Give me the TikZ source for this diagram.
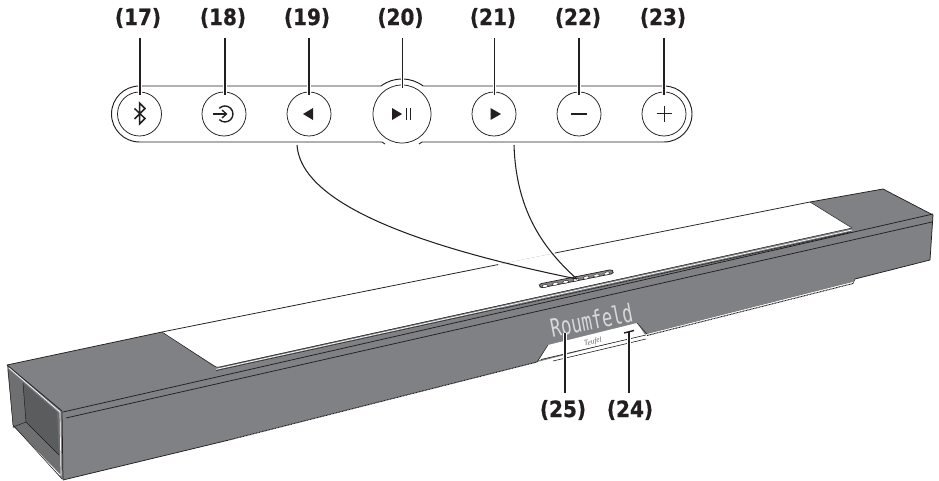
\documentclass[tikz,border=0pt]{standalone}
\usepackage{fontspec}
\setmainfont{DejaVu Sans}
\newfontfamily\calloutfont[FakeBold=0.7]{DejaVu Sans Bold}
\newfontfamily\dispfont{DejaVu Sans Mono}
\newfontfamily\logofont{Liberation Serif}
\usetikzlibrary{calc,shapes.geometric}
\definecolor{barbody}{HTML}{808184}
\definecolor{barinner}{HTML}{5B5C5E}
\definecolor{barside}{HTML}{6E6F71}
\definecolor{ink}{HTML}{231F20}
\tikzset{
  callout/.style={font=\calloutfont\fontsize{20}{24}\selectfont,text=ink,inner sep=0pt,anchor=center,yscale=1.12},
  btn/.style={circle,draw=ink,line width=0.75pt,fill=white,inner sep=0pt,minimum size=44pt},
  btnbig/.style={btn,minimum size=58pt},
  panelline/.style={draw=ink,line width=0.95pt},
  leader/.style={draw=ink,line width=1.4pt,preaction={draw=white,line width=3.6pt}},
  pin/.style={draw=ink,line width=1.05pt},
  edge/.style={draw=ink,line width=0.75pt,line join=round},
  hatchline/.style={draw=ink,line width=1pt,dash pattern=on 0.9pt off 0.6pt},
  ovalkey/.style={ellipse,draw=ink,line width=0.4pt,fill=white,minimum width=6pt,minimum height=2.8pt,inner sep=0pt},
}
\begin{document}
\begin{tikzpicture}[x=1pt,y=-1pt]
\useasboundingbox (0,0) rectangle (939,481);
% --- bar body
\fill[barbody] (7,365) -- (162,332) -- (810,202) -- (883,189) -- (933,215) -- (930,260) -- (855,279) -- (853,282) -- (647,334) -- (537,362) -- (227,440.5) -- (63,480) -- (13,425) -- cycle;
% left opening
\fill[barside] (8,369) -- (60,414) -- (61,476) -- (13,427) -- cycle;
\fill[barinner] (23,383) -- (57,412) -- (59,455) -- (26,422) -- cycle;
\draw[edge,line width=0.5pt] (23,383) -- (26,422) -- (13,427);
\draw[edge,line width=0.5pt] (26,422) -- (59,455);
\draw[white,line width=0.9pt] (14,428) -- (60,475);
\draw[edge] (7,365) -- (62,411) -- (63,479);
\draw[white,line width=0.7pt] (9,368) -- (60,412) -- (61,476);
\draw[edge,line width=0.5pt] (8,369) -- (13,425) -- (62,479);
% white top panel
\fill[white] (162,332) -- (810,202) -- (852,228) -- (217,367) -- cycle;
\draw[edge] (7,365) -- (162,332) -- (498,264.6);
\draw[edge] (555,253) -- (810,202) -- (883,189) -- (933,215) -- (930,260) -- (855,279);
\draw[edge,line width=0.5pt] (162,332) -- (214,366) .. controls (216,367.5) and (218,367.5) .. (220,367) -- (852,228);
\draw[edge,line width=0.5pt] (810,202) -- (852,228);
\draw[white,line width=0.7pt] (216,369.3) -- (852,230);
\draw[ink,line width=0.5pt] (216,370.6) -- (500,308.4);
\draw[hatchline] (500,309) -- (851,232);
% ridge lines
\draw[edge] (63,412) -- (933,214);
\draw[edge] (66,418) -- (932,222);
% lower edge, plain and hatched runs
\draw[edge] (63,480) -- (227,440.5);
\draw[hatchline] (227,440.5) -- (537,362);
\draw[white,line width=0.6pt] (648,334.5) -- (853,282.5);
\draw[hatchline] (647,335.5) -- (853,283.5);
\draw[edge,line width=0.5pt] (853,283.5) -- (855,279);
% display notch
\fill[white] (548,345) -- (637,323) -- (645,335) -- (539,360) -- cycle;
\draw[edge,line width=0.5pt] (537,362) -- (548,345);
\draw[edge,line width=0.5pt] (647,334) -- (637,323);
\draw[edge,line width=0.6pt] (541,359.5) -- (646,335);
\draw[edge,line width=0.6pt] (553,361) -- (646,339);
% display text and logo
\node[rotate=11,inner sep=0pt,text=white!85!black,font=\dispfont\fontsize{17.3}{20}\selectfont,yscale=1.45] (display) at (591.5,320) {Roumfeld};
\node[rotate=13,inner sep=0pt,text=ink!70,font=\logofont\itshape\fontsize{7.5}{9}\selectfont] (logo) at (593,342) {Teufel};
% key strip on the bar
\draw[ink,line width=0.7pt,fill=ink!55,rounded corners=2.2pt] (539,284) -- (612,269.5) -- (613.5,273.5) -- (540.5,288) -- cycle;
\foreach \n in {0,...,6}{
  \node[ovalkey,rotate=11] (key\n) at ({545+\n*10.3},{286-\n*2.1}) {};
}
% --- control panel
\draw[panelline] (139.5,86) arc[start angle=270,end angle=90,radius=28] -- (382,142) -- (385,144);
\draw[panelline] (139.5,86) -- (381,86) arc[start angle=233,end angle=307,radius=35] -- (664,86)
  arc[start angle=270,end angle=450,radius=28] -- (422,142) -- (419,144);
\node[btn] (b17) at (139.5,114) {};
\node[btn] (b18) at (224,114) {};
\node[btn] (b19) at (309,114) {};
\node[btnbig] (b20) at (402,114) {};
\node[btn] (b21) at (494,114) {};
\node[btn] (b22) at (579,114) {};
\node[btn] (b23) at (664,114) {};
% icons
\draw[ink,line width=1.5pt,line join=miter] (134.5,108.5) -- (145,118.5) -- (139.5,124) -- (139.5,103) -- (145,108.5) -- (134.5,119);
\draw[ink,line width=1.4pt] (219.3,108.3) arc[start angle=-135,end angle=135,radius=8];
\draw[ink,line width=1.4pt] (213,114) -- (226,114);
\draw[ink,line width=1.3pt] (222,110) -- (226.5,114) -- (222,118);
\fill[ink] (303,114) -- (313,108) -- (313,120) -- cycle;
\fill[ink] (392,108) -- (402,114) -- (392,120) -- cycle;
\draw[ink,line width=0.8pt] (406,108) -- (406,120) (410.5,108) -- (410.5,120);
\fill[ink] (490.5,108) -- (501,114) -- (490.5,120) -- cycle;
\draw[ink,line width=1.7pt] (571,114) -- (587,114);
\draw[ink,line width=1pt] (656.5,114) -- (672,114) (664.2,106) -- (664.2,122);
% --- callouts
\node[callout] (t17) at (138,18) {(17)};
\node[callout] (t18) at (223,18) {(18)};
\node[callout] (t19) at (307,18) {(19)};
\node[callout] (t20) at (400.5,18) {(20)};
\node[callout] (t21) at (493,18) {(21)};
\node[callout] (t22) at (578,18) {(22)};
\node[callout] (t23) at (663,18) {(23)};
\node[callout] (t25) at (563,410) {(25)};
\node[callout] (t24) at (630,410) {(24)};
\coordinate (l17) at (140,38); \coordinate (e17) at (140,95);
\coordinate (l18) at (225,38); \coordinate (e18) at (225,95);
\coordinate (l19) at (309,38); \coordinate (e19) at (309,95);
\coordinate (l20) at (402.5,38); \coordinate (e20) at (402.5,88);
\coordinate (l21) at (494.5,38); \coordinate (e21) at (494.5,95);
\coordinate (l22) at (579,38); \coordinate (e22) at (579,95);
\coordinate (l23) at (664,38); \coordinate (e23) at (664,95);
\foreach \n in {17,...,23}{ \draw[leader] (l\n) -- (e\n); }
\coordinate (l25) at (565,393); \coordinate (e25) at (565,333);
\coordinate (l24) at (629,393); \coordinate (e24) at (629,332);
\draw[leader] (l25) -- (e25);
\draw[leader] (l24) -- (e24);
\draw[ink,line width=1.4pt] (624,333) -- (634,330.5);
% --- pointer curves
\coordinate (keys) at (577,279);
\coordinate (p1) at (297,145);
\coordinate (p2) at (514,145);
\draw[pin] (p1) .. controls (300,190) and (370,237) .. (keys);
\draw[pin] (p2) .. controls (516,208) and (541,247) .. (keys);
\end{tikzpicture}
\end{document}
